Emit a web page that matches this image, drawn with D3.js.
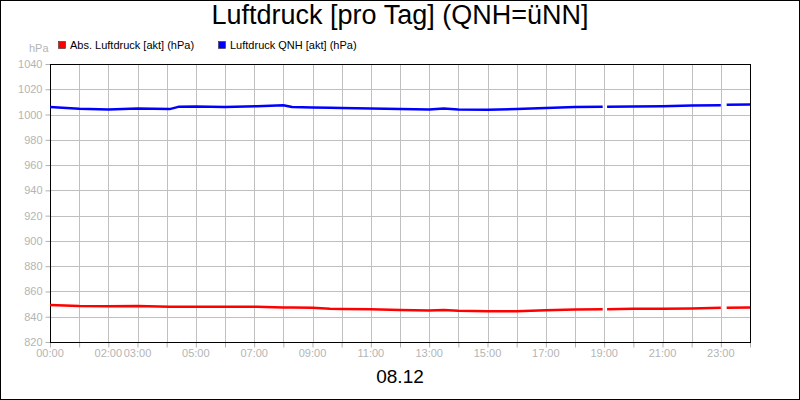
<!DOCTYPE html>
<html>
<head>
<meta charset="utf-8">
<script src="https://cdn.jsdelivr.net/npm/d3@7"></script>
<style>
  body { margin: 0; background: #fff; }
  svg { display: block; font-family: "Liberation Sans", Arial, sans-serif; }
</style>
</head>
<body>
<div id="chart"></div>
<script>
// time of day in hours (null values mark gaps in the record)
var hours = [0, 1, 2, 3, 4.1, 4.4, 5, 6, 7.1, 8, 8.3, 9, 9.6, 10, 11, 12, 13, 13.5, 14, 15, 16, 17, 18, 18.95, 19.0, 19.1, 20, 21, 22, 23.0, 23.1, 23.2, 24];

// Luftdruck QNH [akt] (hPa)
var qnh = [1005.9, 1004.5, 1004.0, 1004.8, 1004.3, 1006.1, 1006.3, 1005.9, 1006.6, 1007.4, 1005.9, 1005.5, 1005.3, 1005.1, 1004.8, 1004.3, 1004.0, 1004.8, 1004.0, 1003.7, 1004.3, 1005.1, 1005.9, 1006.1, null, 1006.1, 1006.3, 1006.6, 1007.1, 1007.4, null, 1007.7, 1007.9];

// Abs. Luftdruck [akt] (hPa)
var absPressure = [849.2, 848.4, 848.3, 848.4, 847.9, 847.9, 847.9, 847.9, 847.9, 847.4, 847.3, 847.1, 846.3, 846.2, 846.0, 845.4, 845.0, 845.3, 844.7, 844.4, 844.4, 845.2, 845.8, 846.0, null, 846.0, 846.3, 846.3, 846.6, 847.1, null, 847.1, 847.4];

var yTicks = [820, 840, 860, 880, 900, 920, 940, 960, 980, 1000, 1020, 1040];
var xLabelHours = [0, 2, 3, 5, 7, 9, 11, 13, 15, 17, 19, 21, 23];
var xLabels = ["00:00", "02:00", "03:00", "05:00", "07:00", "09:00", "11:00", "13:00", "15:00", "17:00", "19:00", "21:00", "23:00"];

var seriesNames = ["Abs. Luftdruck [akt] (hPa)", "Luftdruck QNH [akt] (hPa)"];
var seriesColors = ["#ff0000", "#0000ff"];

var svgWidth = 800, svgHeight = 400;
var plot = { left: 50, right: 750, top: 64, bottom: 342 };

var svg = d3.select("#chart").append("svg")
    .attr("width", svgWidth)
    .attr("height", svgHeight);

// outer frame
svg.append("rect")
    .attr("x", 0.5).attr("y", 0.5)
    .attr("width", svgWidth - 1).attr("height", svgHeight - 1)
    .attr("fill", "#fff").attr("stroke", "#000");

var x = d3.scaleLinear().domain([0, 24]).range([plot.left, plot.right]);
var y = d3.scaleLinear().domain([820, 1040]).range([plot.bottom, plot.top]);

// grid
var grid = svg.append("g").attr("stroke", "#c0c0c0").attr("stroke-width", 1);
grid.selectAll(".hg").data(yTicks).enter().append("line")
    .attr("x1", plot.left).attr("x2", plot.right)
    .attr("y1", d => Math.round(y(d)) + 0.5).attr("y2", d => Math.round(y(d)) + 0.5);
grid.selectAll(".vg").data(d3.range(0, 25)).enter().append("line")
    .attr("x1", d => Math.round(x(d)) + 0.5).attr("x2", d => Math.round(x(d)) + 0.5)
    .attr("y1", plot.top).attr("y2", plot.bottom);

// y axis
var yAxis = d3.axisLeft(y).tickValues(yTicks).tickSize(5).tickPadding(3).tickFormat(d3.format("d"));
var gy = svg.append("g").attr("transform", `translate(${plot.left + 0.5},0)`).call(yAxis);
gy.select(".domain").remove();
gy.selectAll(".tick line").attr("stroke", "#b0b0b0");
gy.selectAll(".tick text").attr("fill", "#b4b4b4").attr("font-size", 11).attr("font-family", "Liberation Sans, Arial, sans-serif");

// x axis: ticks every hour, labels at chosen hours
var xAxis = d3.axisBottom(x).tickValues(d3.range(0, 25)).tickSize(5).tickFormat("");
var gx = svg.append("g").attr("transform", `translate(0,${plot.bottom + 0.5})`).call(xAxis);
gx.select(".domain").remove();
gx.selectAll(".tick line").attr("stroke", "#b0b0b0");

svg.append("g").selectAll("text").data(xLabelHours).enter().append("text")
    .attr("x", d => x(d))
    .attr("y", plot.bottom + 15)
    .attr("text-anchor", "middle")
    .attr("font-size", 11)
    .attr("fill", "#b4b4b4")
    .text((d, i) => xLabels[i]);

// plot frame
svg.append("rect")
    .attr("x", plot.left + 0.5).attr("y", plot.top + 0.5)
    .attr("width", plot.right - plot.left).attr("height", plot.bottom - plot.top)
    .attr("fill", "none").attr("stroke", "#000");

// lines
var allSeries = [absPressure, qnh];
allSeries.forEach(function(values, s) {
    var line = d3.line()
        .defined(d => d != null)
        .x((d, i) => x(hours[i]))
        .y(d => y(d));
    svg.append("path")
        .attr("d", line(values))
        .attr("fill", "none")
        .attr("stroke", seriesColors[s])
        .attr("stroke-width", 2.5)
        .attr("stroke-linejoin", "round");
});

// title
svg.append("text")
    .attr("x", 400).attr("y", 24)
    .attr("text-anchor", "middle")
    .attr("font-size", 27)
    .attr("fill", "#000")
    .text("Luftdruck [pro Tag] (QNH=üNN]");

// unit label
svg.append("text")
    .attr("x", 29).attr("y", 52)
    .attr("font-size", 11)
    .attr("fill", "#b4b4b4")
    .text("hPa");

// legend
var legendX = [58, 218];
var legend = svg.append("g").selectAll("g").data(seriesNames).enter().append("g")
    .attr("transform", (d, i) => `translate(${legendX[i]},41)`);
legend.append("rect")
    .attr("x", 0.5).attr("y", 0.5).attr("width", 7).attr("height", 7)
    .attr("fill", (d, i) => seriesColors[i])
    .attr("stroke", "#333").attr("stroke-width", 0.6);
legend.append("text")
    .attr("x", 12).attr("y", 7.5)
    .attr("font-size", 11)
    .attr("fill", "#000")
    .text(d => d);

// date label
svg.append("text")
    .attr("x", 400).attr("y", 383)
    .attr("text-anchor", "middle")
    .attr("font-size", 19)
    .attr("fill", "#000")
    .text("08.12");
</script>
</body>
</html>
